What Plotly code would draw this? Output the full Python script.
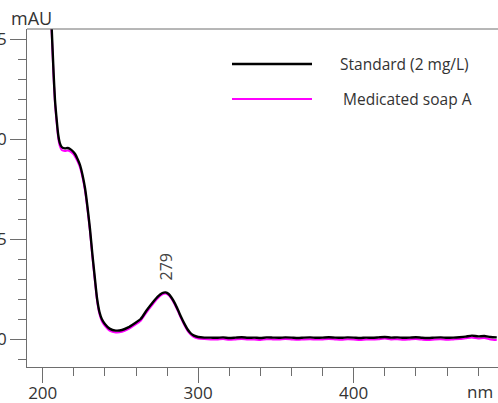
import plotly.graph_objects as go

# ---------------- data ----------------
wavelength = [204.5, 205.8, 207.0, 207.9, 209.0, 210.0, 211.0, 212.2, 214.3, 216.0,
              217.6, 219.2, 220.8, 222.4, 224.0, 225.6, 227.2, 228.8, 230.4, 232.0,
              233.6, 235.0, 236.5, 238.0, 240.0, 243.0, 247.0, 251.0, 255.0, 259.0,
              263.0, 267.0, 271.0, 274.0, 277.0, 279.0, 281.0, 283.0, 285.0, 287.0,
              289.0, 291.0, 293.0, 295.0, 297.0, 300.0, 304.0,
              308, 312, 316, 320, 324, 328, 332, 336, 340, 344,
              348, 352, 356, 360, 364, 368, 372, 376, 380, 384,
              388, 392, 396, 400, 404, 408, 412, 416, 420, 424,
              428, 432, 436, 440, 444, 448, 452, 456, 460, 464,
              468, 472, 476, 480, 484, 488, 492]

standard = [17.7, 15.5, 13.3, 11.95, 10.95, 10.2, 9.8, 9.6, 9.53, 9.55,
            9.5, 9.4, 9.25, 9.0, 8.7, 8.2, 7.55, 6.6, 5.5, 4.2,
            3.0, 2.0, 1.35, 1.0, 0.75, 0.52, 0.42, 0.45, 0.58, 0.78,
            1.0, 1.45, 1.85, 2.12, 2.3, 2.33, 2.25, 2.05, 1.78, 1.45,
            1.1, 0.78, 0.5, 0.3, 0.18, 0.1, 0.07,
            0.07, 0.06, 0.08, 0.05, 0.07, 0.09, 0.06, 0.07, 0.05, 0.08,
            0.07, 0.06, 0.08, 0.07, 0.05, 0.07, 0.08, 0.06, 0.07, 0.09,
            0.07, 0.06, 0.08, 0.07, 0.05, 0.07, 0.06, 0.08, 0.10, 0.07,
            0.08, 0.06, 0.07, 0.09, 0.06, 0.05, 0.07, 0.08, 0.06, 0.07,
            0.09, 0.12, 0.17, 0.13, 0.15, 0.10, 0.08]

soap_a = [17.5, 15.3, 13.1, 11.8, 10.8, 10.05, 9.65, 9.45, 9.4, 9.42,
          9.38, 9.28, 9.12, 8.88, 8.58, 8.08, 7.42, 6.48, 5.38, 4.08,
          2.88, 1.9, 1.25, 0.9, 0.65, 0.42, 0.33, 0.36, 0.49, 0.69,
          0.91, 1.36, 1.76, 2.04, 2.23, 2.27, 2.19, 1.99, 1.71, 1.38,
          1.03, 0.71, 0.43, 0.23, 0.11, 0.03, 0.0,
          -0.02, -0.03, 0.0, -0.04, -0.02, 0.0, -0.03, -0.02, -0.05, -0.01,
          -0.02, -0.03, 0.0, -0.02, -0.04, -0.02, -0.01, -0.03, -0.02, 0.0,
          -0.02, -0.04, -0.01, -0.02, -0.05, -0.02, -0.03, -0.01, 0.02, -0.02,
          -0.01, -0.04, -0.02, 0.0, -0.03, -0.05, -0.02, -0.01, -0.04, -0.02,
          0.0, 0.04, 0.08, 0.03, 0.05, -0.02, -0.05]

series_names = ["Standard (2 mg/L)", "Medicated soap A"]
x_tickvals = [200, 300, 400]
x_ticktext = ["200", "300", "400"]
y_tickvals = [0, 5, 10, 15]
y_ticktext = ["0", "5", "10", "15"]
peak_wl = 279
peak_label = "279"

# ---------------- layout constants ----------------
W, H = 498, 403
ML, MR, MT, MB = 27, 0, 29, 36
PW, PH = W - ML - MR, H - MT - MB
FONT = "Open Sans"
TXT = "#333333"
AX = "#6e6e6e"


def px_x(px):
    return (px - ML) / PW


def px_y(py):
    return (H - MB - py) / PH


fig = go.Figure()
fig.add_trace(go.Scatter(x=wavelength, y=soap_a, mode="lines", name=series_names[1],
                         line=dict(color="#ff00ff", width=2, shape="spline", smoothing=0.6),
                         showlegend=False, hoverinfo="skip"))
fig.add_trace(go.Scatter(x=wavelength, y=standard, mode="lines", name=series_names[0],
                         line=dict(color="#000000", width=2.4, shape="spline", smoothing=0.6),
                         showlegend=False, hoverinfo="skip"))

axis_common = dict(showline=True, linecolor=AX, linewidth=1, ticks="outside",
                   tickcolor=AX, tickwidth=1, showgrid=False, zeroline=False,
                   automargin=False, tickfont=dict(family=FONT, size=17, color=TXT))

fig.update_xaxes(range=[189.9, 492.8], tickvals=x_tickvals, ticktext=x_ticktext,
                 ticklen=15, ticklabelstandoff=-4,
                 minor=dict(dtick=20, tick0=200, ticklen=8, tickcolor=AX, ticks="outside",
                            showgrid=False),
                 **axis_common)
fig.update_yaxes(range=[-1.4, 15.5], tickvals=y_tickvals, ticktext=y_ticktext,
                 ticklen=16,
                 minor=dict(dtick=1, tick0=0, ticklen=8, tickcolor=AX, ticks="outside",
                            showgrid=False),
                 **axis_common)

shapes = [dict(type="line", xref="paper", yref="paper", x0=0, x1=1, y0=1, y1=1,
               line=dict(color=AX, width=1))]
# legend samples
shapes.append(dict(type="line", xref="paper", yref="paper", x0=px_x(232), x1=px_x(312),
                   y0=px_y(64), y1=px_y(64), line=dict(color="#000000", width=2.4)))
shapes.append(dict(type="line", xref="paper", yref="paper", x0=px_x(232), x1=px_x(312),
                   y0=px_y(99), y1=px_y(99), line=dict(color="#ff00ff", width=2)))

annotations = [
    dict(text=series_names[0], xref="paper", yref="paper", x=px_x(338), y=px_y(64),
         xanchor="left", yanchor="middle", showarrow=False,
         font=dict(family=FONT, size=15.5, color=TXT)),
    dict(text=series_names[1], xref="paper", yref="paper", x=px_x(341), y=px_y(99),
         xanchor="left", yanchor="middle", showarrow=False,
         font=dict(family=FONT, size=15.5, color=TXT)),
    dict(text="mAU", xref="paper", yref="paper", x=px_x(31), y=px_y(18),
         xanchor="center", yanchor="middle", showarrow=False,
         font=dict(family=FONT, size=18, color=TXT)),
    dict(text="nm", xref="paper", yref="paper", x=px_x(480), y=px_y(391),
         xanchor="center", yanchor="middle", showarrow=False,
         font=dict(family=FONT, size=17, color=TXT)),
    dict(text=peak_label, x=peak_wl, y=standard[wavelength.index(peak_wl)],
         xref="x", yref="y", yshift=10, yanchor="bottom", xanchor="center",
         textangle=-90, showarrow=False,
         font=dict(family=FONT, size=16, color="#444444")),
]

fig.update_layout(width=W, height=H, margin=dict(l=ML, r=MR, t=MT, b=MB, pad=0),
                  paper_bgcolor="white", plot_bgcolor="white", template="none",
                  shapes=shapes, annotations=annotations, showlegend=False,
                  hovermode=False)

fig.write_html("out.html", config={"displayModeBar": False, "staticPlot": True},
               post_script="document.body.style.margin='0';document.body.style.overflow='hidden';")
